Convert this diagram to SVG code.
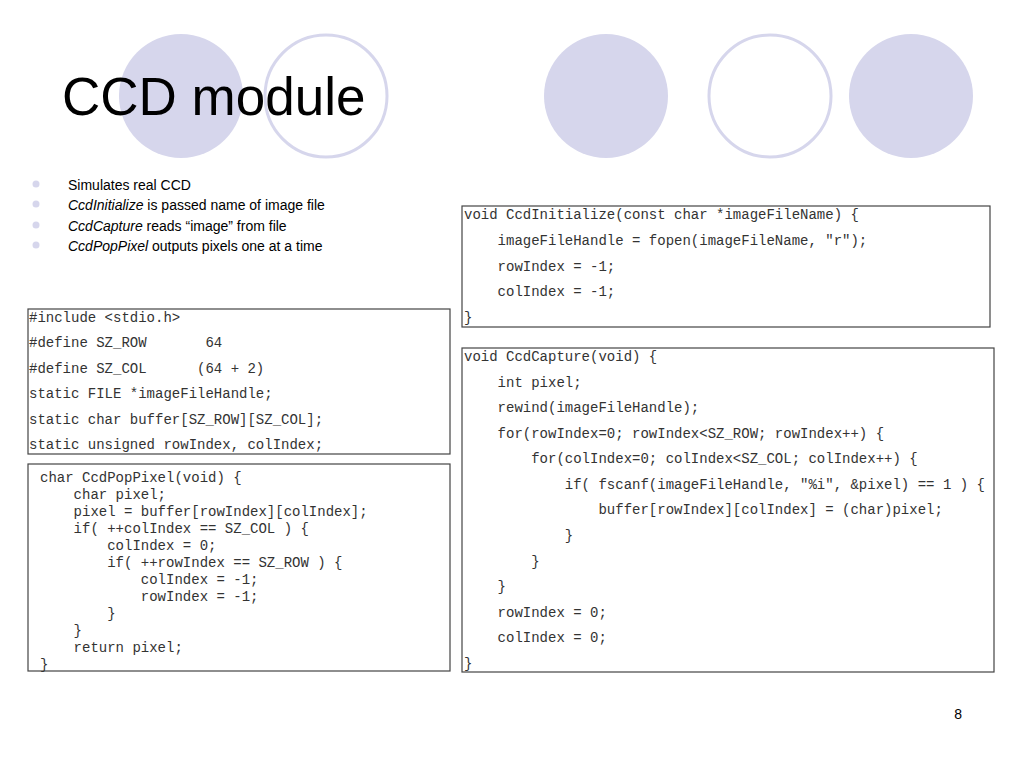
<svg xmlns="http://www.w3.org/2000/svg" width="1024" height="768" viewBox="0 0 1024 768">
<style>
.c{font-family:"Liberation Mono",monospace;font-size:14px;fill:#333;white-space:pre}
.b{font-family:"Liberation Sans",Arial,sans-serif;font-size:14px;fill:#000}
.box{fill:#fff;stroke:#444;stroke-width:1.2}
.f{fill:#d6d6ec}
.o{fill:#fff;stroke:#d6d6ec;stroke-width:3}
</style>
<rect width="1024" height="768" fill="#fff"/>
<g id="circles">
<circle class="f" cx="181" cy="96" r="62"/>
<circle class="o" cx="326" cy="96" r="61"/>
<circle class="f" cx="606" cy="96" r="62"/>
<circle class="o" cx="770" cy="96" r="61"/>
<circle class="f" cx="911" cy="96" r="62"/>
</g>
<text x="62" y="115" font-family="Liberation Sans,Arial,sans-serif" font-size="53" fill="#000">CCD module</text>
<g id="bullets">
<circle class="f" cx="36" cy="184" r="3.5"/><circle class="f" cx="36" cy="204" r="3.5"/><circle class="f" cx="36" cy="225" r="3.5"/><circle class="f" cx="36" cy="245" r="3.5"/>
<text class="b" x="68" y="190">Simulates real CCD</text>
<text class="b" x="68" y="210"><tspan font-style="italic">CcdInitialize</tspan> is passed name of image file</text>
<text class="b" x="68" y="231"><tspan font-style="italic">CcdCapture</tspan> reads “image” from file</text>
<text class="b" x="68" y="251"><tspan font-style="italic">CcdPopPixel</tspan> outputs pixels one at a time</text>
</g>
<g id="defs-box">
<rect class="box" x="28" y="309" width="422" height="145"/>
<text class="c" x="29" y="322">#include &lt;stdio.h&gt;</text>
<text class="c" x="29" y="347">#define SZ_ROW       64</text>
<text class="c" x="29" y="373">#define SZ_COL      (64 + 2)</text>
<text class="c" x="29" y="398">static FILE *imageFileHandle;</text>
<text class="c" x="29" y="424">static char buffer[SZ_ROW][SZ_COL];</text>
<text class="c" x="29" y="449">static unsigned rowIndex, colIndex;</text>
</g>
<g id="pop-box">
<rect class="box" x="28" y="464" width="422" height="207"/>
<text class="c" x="40" y="482">char CcdPopPixel(void) {</text>
<text class="c" x="40" y="499">    char pixel;</text>
<text class="c" x="40" y="516">    pixel = buffer[rowIndex][colIndex];</text>
<text class="c" x="40" y="533">    if( ++colIndex == SZ_COL ) {</text>
<text class="c" x="40" y="550">        colIndex = 0;</text>
<text class="c" x="40" y="567">        if( ++rowIndex == SZ_ROW ) {</text>
<text class="c" x="40" y="584">            colIndex = -1;</text>
<text class="c" x="40" y="601">            rowIndex = -1;</text>
<text class="c" x="40" y="618">        }</text>
<text class="c" x="40" y="635">    }</text>
<text class="c" x="40" y="652">    return pixel;</text>
<text class="c" x="40" y="669">}</text>
</g>
<g id="init-box">
<rect class="box" x="462" y="206" width="528" height="121"/>
<text class="c" x="464" y="219">void CcdInitialize(const char *imageFileName) {</text>
<text class="c" x="464" y="245">    imageFileHandle = fopen(imageFileName, "r");</text>
<text class="c" x="464" y="271">    rowIndex = -1;</text>
<text class="c" x="464" y="296">    colIndex = -1;</text>
<text class="c" x="464" y="322">}</text>
</g>
<g id="capture-box">
<rect class="box" x="462" y="348" width="532" height="324"/>
<text class="c" x="464" y="361">void CcdCapture(void) {</text>
<text class="c" x="464" y="387">    int pixel;</text>
<text class="c" x="464" y="412">    rewind(imageFileHandle);</text>
<text class="c" x="464" y="438">    for(rowIndex=0; rowIndex&lt;SZ_ROW; rowIndex++) {</text>
<text class="c" x="464" y="463">        for(colIndex=0; colIndex&lt;SZ_COL; colIndex++) {</text>
<text class="c" x="464" y="489">            if( fscanf(imageFileHandle, "%i", &amp;pixel) == 1 ) {</text>
<text class="c" x="464" y="514">                buffer[rowIndex][colIndex] = (char)pixel;</text>
<text class="c" x="464" y="540">            }</text>
<text class="c" x="464" y="566">        }</text>
<text class="c" x="464" y="591">    }</text>
<text class="c" x="464" y="617">    rowIndex = 0;</text>
<text class="c" x="464" y="642">    colIndex = 0;</text>
<text class="c" x="464" y="668">}</text>
</g>
<text x="962" y="719" font-family="Liberation Sans,Arial,sans-serif" font-size="14" text-anchor="end" fill="#000">8</text>
</svg>
